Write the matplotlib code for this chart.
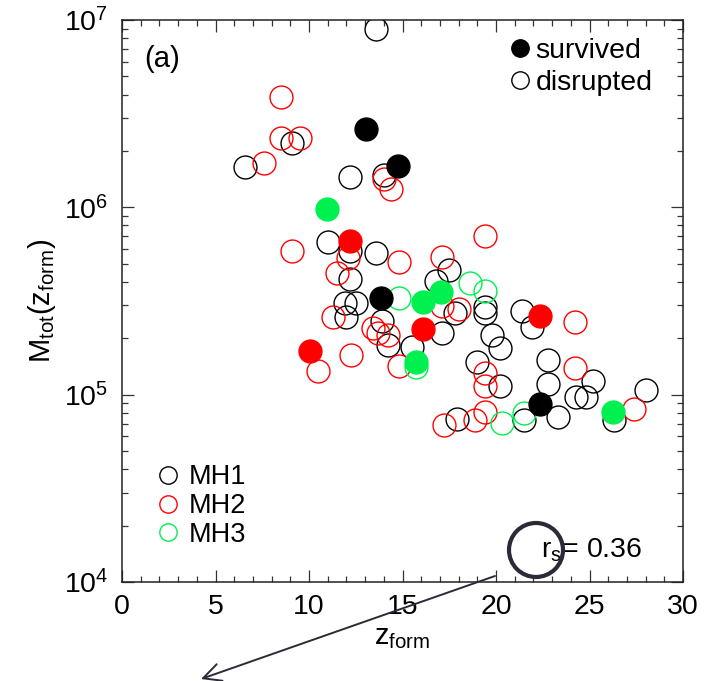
import matplotlib
matplotlib.use('Agg')
import matplotlib.pyplot as plt
from matplotlib.lines import Line2D
from matplotlib.patches import Ellipse, FancyArrowPatch
from matplotlib.ticker import LogLocator, NullFormatter, MultipleLocator, LogFormatterSciNotation

plt.rcParams['font.family'] = ['Liberation Sans', 'DejaVu Sans']
plt.rcParams['mathtext.fontset'] = 'custom'
plt.rcParams['mathtext.rm'] = 'Liberation Sans'
plt.rcParams['mathtext.it'] = 'Liberation Sans:italic'
plt.rcParams['mathtext.bf'] = 'Liberation Sans:bold'

# ---------------- data ----------------
mh1_dis_z = [13.6, 6.6, 9.1, 12.2, 14.0, 11.0, 12.2, 13.6, 12.2, 11.9, 12.5, 12.0, 13.9,
             14.2, 15.5, 16.8, 17.5, 17.8, 17.1, 19.4, 19.4, 21.4, 21.9, 19.8, 20.2, 19.0,
             20.2, 22.8, 22.8, 25.2, 24.3, 24.8, 28.0, 23.3, 26.3, 21.5, 17.9]
mh1_dis_m = [8.9e6, 1.64e6, 2.2e6, 1.45e6, 1.49e6, 6.5e5, 5.85e5, 5.7e5, 4.15e5, 3.1e5,
             3.1e5, 2.6e5, 2.48e5, 1.85e5, 1.8e5, 4.05e5, 4.65e5, 2.73e5, 2.14e5, 2.94e5,
             2.73e5, 2.8e5, 2.3e5, 2.08e5, 1.78e5, 1.5e5, 1.11e5, 1.53e5, 1.14e5, 1.19e5,
             9.7e4, 9.7e4, 1.06e5, 7.6e4, 7.35e4, 7.35e4, 7.4e4]

mh2_dis_z = [8.5, 8.5, 9.5, 7.6, 14.0, 14.4, 9.1, 12.1, 14.8, 11.5, 17.1, 11.3, 13.4, 13.7,
             14.2, 12.25, 10.5, 14.8, 17.1, 18.0, 24.2, 19.4, 19.4, 24.2, 27.4, 19.4, 18.9,
             17.2, 19.4]
mh2_dis_m = [3.9e6, 2.35e6, 2.35e6, 1.73e6, 1.42e6, 1.25e6, 5.85e5, 5.37e5, 5.12e5, 4.47e5,
             5.43e5, 2.6e5, 2.27e5, 2.14e5, 2.08e5, 1.63e5, 1.34e5, 1.43e5, 2.98e5, 2.87e5,
             2.44e5, 1.31e5, 1.11e5, 1.39e5, 8.4e4, 8.1e4, 7.35e4, 6.85e4, 7.0e5]

mh3_dis_z = [14.8, 18.6, 19.4, 20.3, 21.5, 15.7]
mh3_dis_m = [3.29e5, 3.96e5, 3.58e5, 7.1e4, 8.0e4, 1.41e5]

mh1_sur_z = [13.05, 14.76, 13.85, 22.35]
mh1_sur_m = [2.62e6, 1.66e6, 3.29e5, 8.9e4]
mh2_sur_z = [12.19, 10.05, 16.10, 22.35]
mh2_sur_m = [6.6e5, 1.71e5, 2.24e5, 2.63e5]
mh3_sur_z = [10.96, 16.10, 17.06, 15.72, 26.26]
mh3_sur_m = [9.8e5, 3.13e5, 3.54e5, 1.50e5, 8.1e4]

halo_names = ['MH1', 'MH2', 'MH3']
status_names = ['survived', 'disrupted']
rs_text = '= 0.36'

C1, C2, C3 = 'black', '#ff0000', '#00f050'

# ---------------- figure ----------------
fig = plt.figure(figsize=(7.05, 6.81), dpi=100)
ax = fig.add_axes([122/705, 1-582/681, 561/705, 562/681])

ms = 16.5
mew = 1.0
for z, m, c in [(mh1_dis_z, mh1_dis_m, C1), (mh2_dis_z, mh2_dis_m, C2), (mh3_dis_z, mh3_dis_m, C3)]:
    ax.plot(z, m, 'o', ls='none', ms=ms, mfc='none', mec=c, mew=mew)
for z, m, c in [(mh1_sur_z, mh1_sur_m, C1), (mh2_sur_z, mh2_sur_m, C2), (mh3_sur_z, mh3_sur_m, C3)]:
    ax.plot(z, m, 'o', ls='none', ms=ms, mfc=c, mec=c, mew=mew)

ax.set_yscale('log')
ax.set_xlim(0, 30)
ax.set_ylim(1e4, 1e7)
ax.xaxis.set_major_locator(MultipleLocator(5))
ax.xaxis.set_minor_locator(MultipleLocator(1))
ax.yaxis.set_major_locator(LogLocator(base=10))
ax.yaxis.set_minor_locator(LogLocator(base=10, subs=range(2, 10)))
ax.yaxis.set_major_formatter(LogFormatterSciNotation())
ax.yaxis.set_minor_formatter(NullFormatter())

ax.tick_params(which='both', direction='in', top=True, right=True, width=0.9, color='#333333')
ax.tick_params(which='major', length=8.5)
ax.tick_params(which='minor', length=4.5)
ax.tick_params(axis='x', which='major', labelsize=20.5, pad=9)
ax.tick_params(axis='y', which='major', labelsize=20.5, pad=10)
for s in ax.spines.values():
    s.set_linewidth(1.1)
    s.set_color('#222222')

ax.set_xlabel(r'$\mathregular{z_{form}}$', fontsize=21, labelpad=2)
ax.set_ylabel(r'$\mathregular{M_{tot}(z_{form})}$', fontsize=21, labelpad=4)

ax.text(0.04, 0.955, '(a)', transform=ax.transAxes, fontsize=21, va='top', ha='left')

# status legend
h_status = [Line2D([], [], marker='o', ls='none', ms=12.5, mfc='black', mec='black'),
            Line2D([], [], marker='o', ls='none', ms=12.5, mfc='none', mec='black', mew=1.0)]
leg1 = ax.legend(h_status, status_names, loc='upper left', bbox_to_anchor=(0.653, 1.004),
                 frameon=False, fontsize=20.5, handlelength=0.8, handletextpad=0.15,
                 labelspacing=0.22, borderpad=0.2)
ax.add_artist(leg1)

# halo legend
h_halo = [Line2D([], [], marker='o', ls='none', ms=12.5, mfc='none', mec=c, mew=1.0)
          for c in (C1, C2, C3)]
ax.legend(h_halo, halo_names, loc='lower left', bbox_to_anchor=(0.029, 0.027),
          frameon=False, fontsize=19.5, handlelength=0.8, handletextpad=0.35,
          labelspacing=0.1, borderpad=0.2)

# r_s annotation
ax.text(0.746, 0.057, r'$\mathregular{r_s}$' + rs_text, transform=ax.transAxes,
        fontsize=20.5, va='center', ha='left')

# hand-drawn circle & arrow overlay
ac = '#2b2b38'
fig.add_artist(Ellipse((536/705, 1-550/681), 2*27/705, 2*27/681, transform=fig.transFigure,
                       fill=False, lw=3.0, ec=ac))
fig.add_artist(FancyArrowPatch((495/705, 1-576/681), (201/705, 1-679/681),
                               transform=fig.transFigure, arrowstyle='->,head_length=0.9,head_width=0.45',
                               lw=1.4, color=ac, mutation_scale=14, shrinkA=0, shrinkB=0))

fig.savefig('out.png', dpi=100)
